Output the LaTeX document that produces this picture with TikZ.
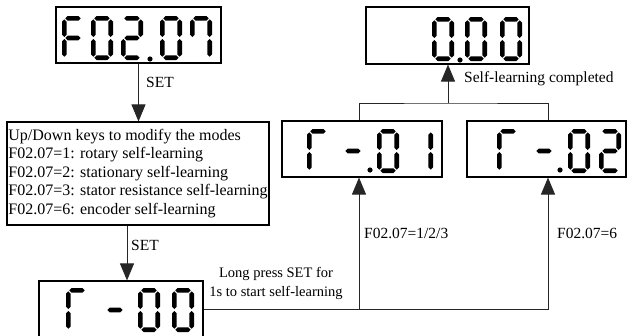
\documentclass[tikz,border=0pt]{standalone}
\usepackage{fontspec}
\setmainfont{Liberation Serif}
\usetikzlibrary{arrows.meta}
\def\dW{22}\def\dH{44}\def\dt{4.6}\def\dg{1.0}
\newcommand\hseg[3]{\fill[segc] ({#1},{#3}) -- ({#1+\dt/2},{#3-\dt/2}) -- ({#2-\dt/2},{#3-\dt/2}) -- ({#2},{#3}) -- ({#2-\dt/2},{#3+\dt/2}) -- ({#1+\dt/2},{#3+\dt/2}) -- cycle;}
\newcommand\vseg[3]{\fill[segc] ({#1},{#2}) -- ({#1+\dt/2},{#2+\dt/2}) -- ({#1+\dt/2},{#3-\dt/2}) -- ({#1},{#3}) -- ({#1-\dt/2},{#3-\dt/2}) -- ({#1-\dt/2},{#2+\dt/2}) -- cycle;}
\newcommand\sega[2]{\hseg{#1+\dt/2+\dg}{#1+\dW-\dt/2-\dg}{#2+\dt/2}}
\newcommand\segb[2]{\vseg{#1+\dW-\dt/2}{#2+\dt/2+\dg}{#2+\dH/2-\dg}}
\newcommand\segc[2]{\vseg{#1+\dW-\dt/2}{#2+\dH/2+\dg}{#2+\dH-\dt/2-\dg}}
\newcommand\segd[2]{\hseg{#1+\dt/2+\dg}{#1+\dW-\dt/2-\dg}{#2+\dH-\dt/2}}
\newcommand\sege[2]{\vseg{#1+\dt/2}{#2+\dH/2+\dg}{#2+\dH-\dt/2-\dg}}
\newcommand\segf[2]{\vseg{#1+\dt/2}{#2+\dt/2+\dg}{#2+\dH/2-\dg}}
\newcommand\segg[2]{\hseg{#1+\dt/2+\dg}{#1+\dW-\dt/2-\dg}{#2+\dH/2}}
\newcommand\sdigit[3]{\foreach \s in {#3}{\csname seg\s\endcsname{#1}{#2}}}
\newcommand\sdot[2]{\fill[segc] (#1,#2) circle[radius=2.6pt];}
\tikzset{
  segc/.style={fill=black},
  disp/.style={draw, line width=1.1pt, inner sep=0pt},
  arr/.style={line width=0.9pt, draw=black!85, -{Triangle[length=17pt,width=14pt]}},
  ln/.style={line width=0.9pt, draw=black!85},
  lbl/.style={inner sep=0pt, font=\fontsize{15.5}{18}\selectfont}
}
\begin{document}
\begin{tikzpicture}[x=1pt,y=-1pt]
\useasboundingbox (0,0) rectangle (627,335);
\clip (0,0) rectangle (627,335);
% boxes
\node[disp, minimum width=165pt, minimum height=56pt] (b1) at (138.5,35) {};
\node[disp, minimum width=163pt, minimum height=57pt] (b0) at (447.5,35.5) {};
\node[disp, minimum width=160pt, minimum height=56pt] (r01) at (362,149) {};
\node[disp, minimum width=159pt, minimum height=56pt] (r02) at (546.5,149) {};
\node[disp, minimum width=164pt, minimum height=56pt] (r00) at (121,309) {};
\node[draw, line width=1.1pt, minimum width=262pt, minimum height=103pt, align=left, inner sep=1pt, font=\fontsize{16}{18.5}\selectfont] (menu) at (138,173.5)
  {Up/Down keys to modify the modes\\F02.07=1: rotary self-learning\\F02.07=2: stationary self-learning\\F02.07=3: stator resistance self-learning\\F02.07=6: encoder self-learning};
% digits F02.07
\sdigit{62}{16}{a,f,e,g}
\sdigit{91}{16}{a,b,c,d,e,f}
\sdigit{121}{16}{a,b,g,e,d}
\sdot{150}{59}
\sdigit{160}{16}{a,b,c,d,e,f}
\sdigit{190}{16}{a,b,c,f}
% 0.00
\sdigit{432}{17}{a,b,c,d,e,f}
\sdot{460}{60}
\sdigit{465}{17}{a,b,c,d,e,f}
\sdigit{500}{17}{a,b,c,d,e,f}
% r-.01
\sdigit{307}{129}{a,f,e}
\sdigit{342}{129}{g}
\sdot{370}{170}
\sdigit{377}{129}{a,b,c,d,e,f}
\sdigit{411}{129}{b,c}
% r-.02
\sdigit{497}{129}{a,f,e}
\sdigit{533}{129}{g}
\sdot{560}{170}
\sdigit{568}{129}{a,b,c,d,e,f}
\sdigit{599}{129}{a,b,g,e,d}
% r-00
\sdigit{66}{288}{a,f,e}
\sdigit{104}{288}{g}
\sdigit{138}{288}{a,b,c,d,e,f}
\sdigit{172}{288}{a,b,c,d,e,f}
% labels
\node[lbl, anchor=west] (s1) at (146,82) {SET};
\node[lbl, anchor=west] (s2) at (131,245) {SET};
\node[lbl, anchor=west] (slc) at (464,79) {Self-learning completed};
\node[lbl, anchor=west] (c1) at (364,233) {F02.07=1/2/3};
\node[lbl, anchor=west] (c2) at (557,233) {F02.07=6};
\node[inner sep=0pt, align=center, font=\fontsize{14.5}{19}\selectfont] (lp) at (276,283) {Long press SET for\\1s to start self-learning};
% connectors
\draw[arr] (b1.south) -- (b1.south |- menu.north);
\coordinate (x2) at (127,0);
\draw[arr] (menu.south -| x2) -- (r00.north -| x2);
\path (r01.south) ++(-3,0) coordinate (r01in);
\path (r02.south) ++(1.5,0) coordinate (r02in);
\draw[arr] (r00.east) -| (r02in);
\draw[arr] (r01in |- r00.east) -- (r01in);
\path (r01.north) ++(-3,0) coordinate (r01out);
\path (r02.north) ++(1.5,0) coordinate (r02out);
\coordinate (jn) at (448,103);
\draw[ln] (r01out) |- (jn) -| (r02out);
\draw[arr] (jn) -- (jn |- b0.south);
\end{tikzpicture}
\end{document}
